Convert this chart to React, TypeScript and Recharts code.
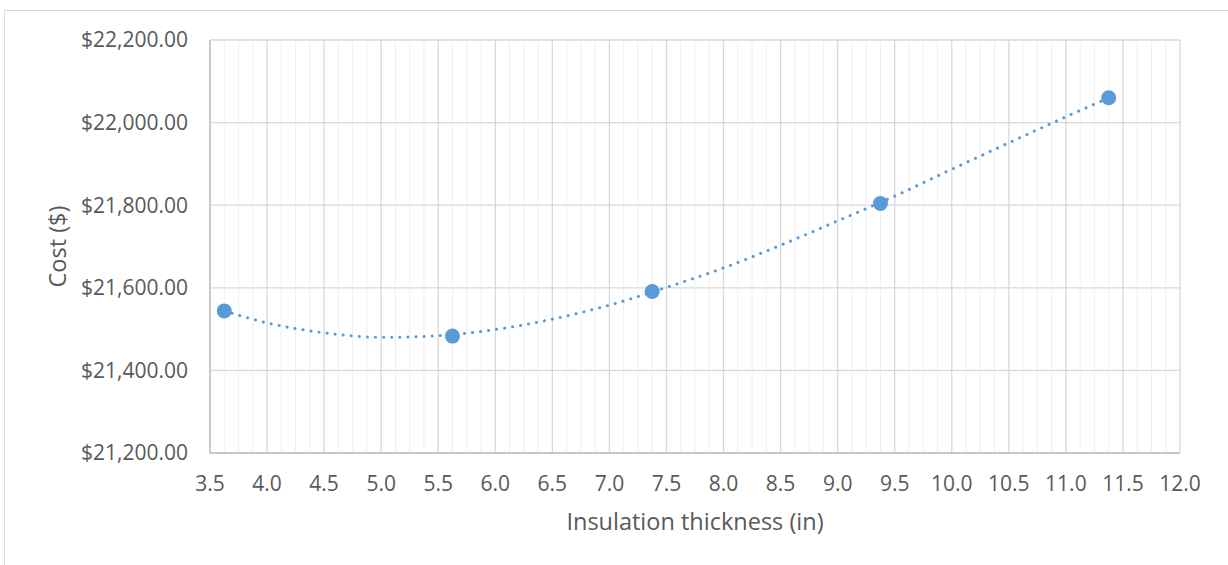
import React from 'react';
import {
    ComposedChart,
    Line,
    Scatter,
    XAxis,
    YAxis,
    CartesianGrid,
    ReferenceLine,
} from 'recharts';

// measured points
const thickness = [3.625, 5.625, 7.375, 9.375, 11.375];
const cost = [21544, 21483, 21591, 21804, 22060];

// dotted trend curve
const trendThickness = [3.625, 4.0, 4.5, 5.0, 5.5, 6.0, 6.5, 7.0, 7.5, 8.0, 8.5, 9.0, 9.5, 10.0, 10.5, 11.0, 11.375];
const trendCost = [21544, 21515, 21491, 21480, 21484, 21499, 21524, 21558, 21601, 21648, 21703, 21762, 21822, 21887, 21951, 22014, 22060];

const xTicks = [3.5, 4.0, 4.5, 5.0, 5.5, 6.0, 6.5, 7.0, 7.5, 8.0, 8.5, 9.0, 9.5, 10.0, 10.5, 11.0, 11.5, 12.0];
const xMinorTicks = [
    3.625, 3.75, 3.875, 4.125, 4.25, 4.375, 4.625, 4.75, 4.875,
    5.125, 5.25, 5.375, 5.625, 5.75, 5.875, 6.125, 6.25, 6.375,
    6.625, 6.75, 6.875, 7.125, 7.25, 7.375, 7.625, 7.75, 7.875,
    8.125, 8.25, 8.375, 8.625, 8.75, 8.875, 9.125, 9.25, 9.375,
    9.625, 9.75, 9.875, 10.125, 10.25, 10.375, 10.625, 10.75, 10.875,
    11.125, 11.25, 11.375, 11.625, 11.75, 11.875,
];
const yTicks = [21200, 21400, 21600, 21800, 22000, 22200];

const points = thickness.map((x, i) => ({ x, y: cost[i] }));
const trend = trendThickness.map((x, i) => ({ x, y: trendCost[i] }));

const BLUE = '#5B9BD5';
const TEXT = '#595959';
const FONT = '"Open Sans", sans-serif';

const money = (v: number) =>
    '$' + v.toLocaleString('en-US', { minimumFractionDigits: 2, maximumFractionDigits: 2 });

const YLabel = (props: any) => {
    const vb = props.viewBox;
    const cy = vb.y + vb.height / 2;
    return (
        <text
            x={57}
            y={cy}
            transform={`rotate(-90 57 ${cy})`}
            textAnchor="middle"
            dominantBaseline="central"
            fill={TEXT}
            fontSize={23.5}
            fontFamily={FONT}
        >
            Cost ($)
        </text>
    );
};

const XLabel = (props: any) => {
    const vb = props.viewBox;
    return (
        <text
            x={vb.x + vb.width / 2}
            y={530}
            textAnchor="middle"
            fill={TEXT}
            fontSize={23.5}
            fontFamily={FONT}
        >
            Insulation thickness (in)
        </text>
    );
};

const Dot = (props: any) => (
    <circle cx={props.cx} cy={props.cy} r={7.5} fill={BLUE} />
);

const App: React.FC = () => {
    return (
        <div
            style={{
                position: 'absolute',
                left: 0,
                top: 0,
                width: 1228,
                height: 565,
                background: '#fff',
                overflow: 'hidden',
            }}
        >
            <div
                style={{
                    position: 'absolute',
                    left: 4,
                    top: 10,
                    width: 1224,
                    height: 555,
                    borderLeft: '1.5px solid #D9D9D9',
                    borderTop: '1.5px solid #D9D9D9',
                }}
            />
            <ComposedChart
                width={1228}
                height={565}
                margin={{ top: 40, right: 48, bottom: 82, left: 0 }}
                style={{ position: 'absolute', left: 0, top: 0 }}
            >
                {xMinorTicks.map((t) => (
                    <ReferenceLine key={t} x={t} stroke="#EFEFEF" strokeWidth={1} ifOverflow="hidden" />
                ))}
                <CartesianGrid stroke="#D9D9D9" strokeWidth={1.3} />
                <XAxis
                    type="number"
                    dataKey="x"
                    domain={[3.5, 12]}
                    ticks={xTicks}
                    interval={0}
                    height={30}
                    tickFormatter={(v: number) => v.toFixed(1)}
                    tickLine={false}
                    tickMargin={17}
                    axisLine={{ stroke: '#BFBFBF', strokeWidth: 1.5 }}
                    tick={{ fill: TEXT, fontSize: 21, fontFamily: FONT }}
                    label={{ content: XLabel }}
                />
                <YAxis
                    type="number"
                    dataKey="y"
                    width={210}
                    domain={[21200, 22200]}
                    ticks={yTicks}
                    interval={0}
                    tickFormatter={money}
                    tickLine={false}
                    tickMargin={16}
                    axisLine={{ stroke: '#BFBFBF', strokeWidth: 1.5 }}
                    tick={{ fill: TEXT, fontSize: 21, fontFamily: FONT }}
                    label={{ content: YLabel }}
                />
                <Line
                    data={trend}
                    dataKey="y"
                    type="monotone"
                    stroke={BLUE}
                    strokeWidth={3}
                    strokeDasharray="0.1 8"
                    strokeLinecap="round"
                    dot={false}
                    activeDot={false}
                    isAnimationActive={false}
                />
                <Scatter data={points} fill={BLUE} shape={Dot} isAnimationActive={false} />
            </ComposedChart>
        </div>
    );
};

export default App;
